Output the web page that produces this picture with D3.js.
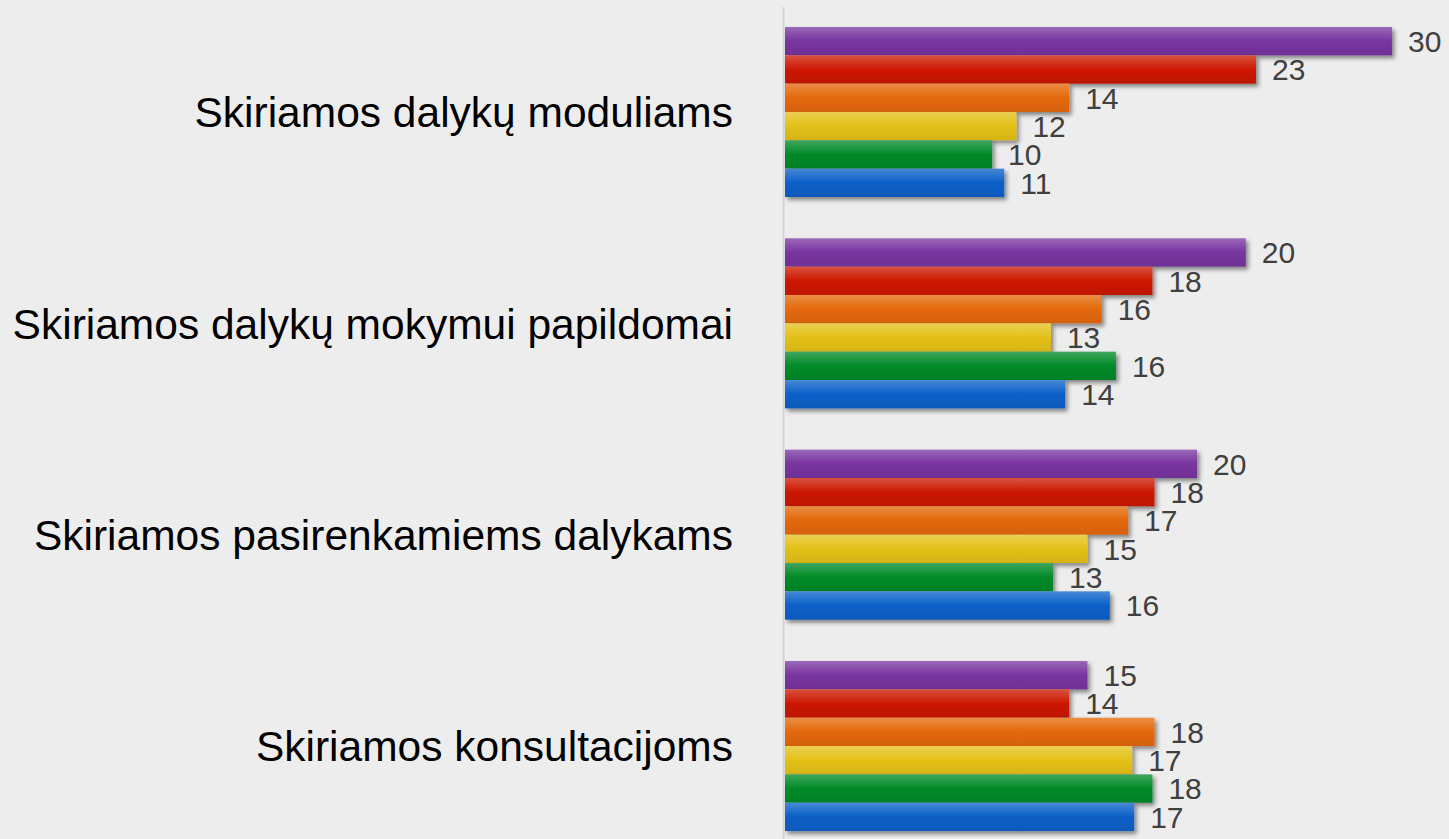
<!DOCTYPE html>
<html>
<head>
<meta charset="utf-8">
<script src="https://cdn.jsdelivr.net/npm/d3@7"></script>
<style>
  html, body { margin: 0; padding: 0; background: #ededed; }
  svg { display: block; }
</style>
</head>
<body>
<div id="chart"></div>
<script>
var width = 1449,
    height = 839;

// categories, top to bottom
var categories = [
  "Skiriamos dalykų moduliams",
  "Skiriamos dalykų mokymui papildomai",
  "Skiriamos pasirenkamiems dalykams",
  "Skiriamos konsultacijoms"
];

// six series per category, drawn top to bottom (purple .. blue)
var seriesKeys = ["s1", "s2", "s3", "s4", "s5", "s6"];
var seriesColors = ["#7835a0", "#cc1800", "#e46808", "#e4c018", "#008a28", "#0a60c8"];

// bar lengths
var values = [
  [29.9, 23.2, 14.0, 11.4, 10.2, 10.8],
  [22.7, 18.1, 15.6, 13.1, 16.3, 13.8],
  [20.3, 18.2, 16.9, 14.9, 13.2, 16.0],
  [14.9, 14.0, 18.2, 17.1, 18.1, 17.2]
];

// the value labels printed next to the bars
var labels = [
  ["30", "23", "14", "12", "10", "11"],
  ["20", "18", "16", "13", "16", "14"],
  ["20", "18", "17", "15", "13", "16"],
  ["15", "14", "18", "17", "18", "17"]
];

var svg = d3.select("#chart").append("svg")
    .attr("width", width)
    .attr("height", height);

svg.append("rect")
    .attr("width", width)
    .attr("height", height)
    .attr("fill", "#ededed");

var defs = svg.append("defs");

// drop shadow like the office charts
var filter = defs.append("filter")
    .attr("id", "shadow")
    .attr("x", "-5%").attr("y", "-30%")
    .attr("width", "115%").attr("height", "190%");
filter.append("feDropShadow")
    .attr("dx", 2.5)
    .attr("dy", 3)
    .attr("stdDeviation", 2.2)
    .attr("flood-color", "#000")
    .attr("flood-opacity", 0.45);

// vertical gradient per colour, lighter on top
seriesColors.forEach(function(c, i) {
  var base = d3.rgb(c);
  var g = defs.append("linearGradient")
      .attr("id", "grad" + i)
      .attr("x1", 0).attr("y1", 0)
      .attr("x2", 0).attr("y2", 1);
  g.append("stop").attr("offset", "0%").attr("stop-color", d3.interpolateRgb(c, "#ffffff")(0.25));
  g.append("stop").attr("offset", "50%").attr("stop-color", c);
  g.append("stop").attr("offset", "100%").attr("stop-color", base.darker(0.2));
});

var x = d3.scaleLinear()
    .domain([0, 32])
    .range([785, 785 + 32 * 20.3]);

var y0 = d3.scaleBand()
    .domain(categories)
    .range([6.3, 851.7])
    .paddingInner(0.1956)
    .paddingOuter(0.0978);

var y1 = d3.scaleBand()
    .domain(seriesKeys)
    .range([0, y0.bandwidth()]);

// axis line
svg.append("line")
    .attr("x1", 783.5).attr("x2", 783.5)
    .attr("y1", 7).attr("y2", height)
    .attr("stroke", "#d6d6d6")
    .attr("stroke-width", 2);

var groups = svg.selectAll("g.cat")
    .data(categories)
    .enter()
    .append("g")
    .attr("class", "cat")
    .attr("transform", function(d) { return "translate(0," + y0(d) + ")"; });

function rows(d, i) {
  return seriesKeys.map(function(k, j) {
    return { key: k, j: j, value: values[i][j], label: labels[i][j] };
  });
}

groups.selectAll("rect")
    .data(rows)
    .enter()
    .append("rect")
    .attr("x", x(0))
    .attr("y", function(d) { return y1(d.key); })
    .attr("width", function(d) { return x(d.value) - x(0); })
    .attr("height", y1.bandwidth())
    .attr("fill", function(d) { return "url(#grad" + d.j + ")"; })
    .attr("filter", "url(#shadow)");

groups.selectAll("text.val")
    .data(rows)
    .enter()
    .append("text")
    .attr("class", "val")
    .attr("x", function(d) { return x(d.value) + 16; })
    .attr("y", function(d) { return y1(d.key) + y1.bandwidth() / 2; })
    .attr("dy", "0.36em")
    .style("font-family", "Liberation Sans, Arial, sans-serif")
    .style("font-size", "30px")
    .style("fill", "#404040")
    .text(function(d) { return d.label; });

// category labels
svg.selectAll("text.cat")
    .data(categories)
    .enter()
    .append("text")
    .attr("class", "cat")
    .attr("x", 733)
    .attr("y", function(d) { return y0(d) + y0.bandwidth() / 2; })
    .attr("dy", "0.36em")
    .attr("text-anchor", "end")
    .style("font-family", "Liberation Sans, Arial, sans-serif")
    .style("font-size", "42.5px")
    .style("fill", "#000")
    .text(function(d) { return d; });
</script>
</body>
</html>
